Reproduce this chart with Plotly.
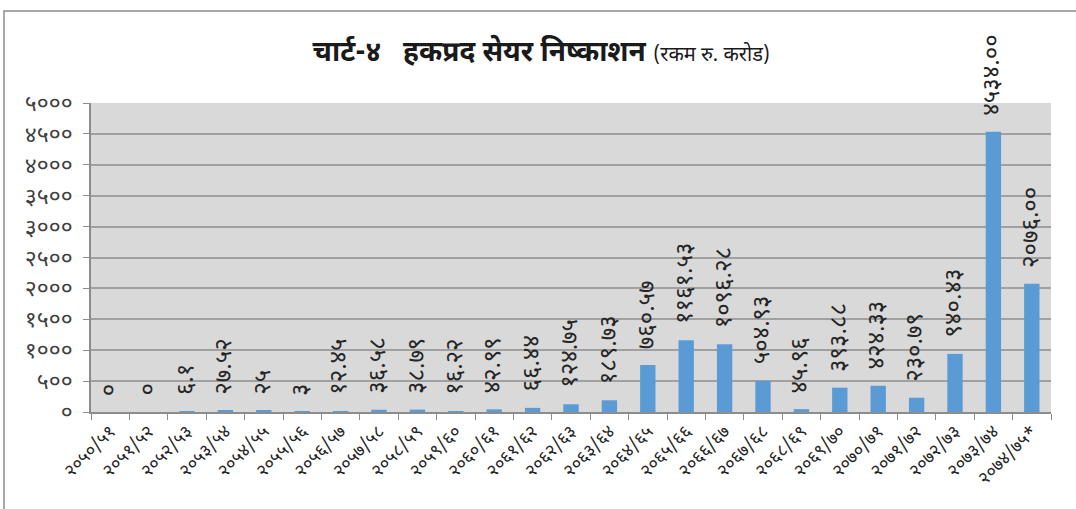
import plotly.graph_objects as go

categories = ["२०५०/५१", "२०५१/५२", "२०५२/५३", "२०५३/५४", "२०५४/५५", "२०५५/५६",
              "२०५६/५७", "२०५७/५८", "२०५८/५९", "२०५९/६०", "२०६०/६१", "२०६१/६२",
              "२०६२/६३", "२०६३/६४", "२०६४/६५", "२०६५/६६", "२०६६/६७", "२०६७/६८",
              "२०६८/६९", "२०६९/७०", "२०७०/७१", "२०७१/७२", "२०७२/७३", "२०७३/७४",
              "२०७४/७५*"]
values = [0, 0, 6.1, 27.52, 25, 3, 12.45, 36.58, 38.79, 16.22, 42.99, 66.44,
          124.75, 189.73, 760.57, 1161.53, 1096.28, 504.93, 45.96, 393.88,
          424.33, 230.79, 940.43, 4534.00, 2076.00]
value_labels = ["0", "0", "6.1", "27.52", "25", "3", "12.45", "36.58", "38.79", "16.22",
                "42.99", "66.44", "124.75", "189.73", "760.57", "1161.53", "1096.28",
                "504.93", "45.96", "393.88", "424.33", "230.79", "940.43", "4534.00",
                "2076.00"]
y_ticks = [0, 500, 1000, 1500, 2000, 2500, 3000, 3500, 4000, 4500, 5000]

DEV = str.maketrans("0123456789", "०१२३४५६७८९")
def dev(s):
    return str(s).translate(DEV)

FONT = "Noto Sans Devanagari, Noto Sans, DejaVu Sans, sans-serif"

fig = go.Figure()
fig.add_trace(go.Bar(
    x=categories, y=values,
    marker=dict(color="#5b9bd5", line=dict(width=0)),
    cliponaxis=False,
))

annotations = [
    dict(x=c, y=v, xref="x", yref="y", text=dev(t), showarrow=False,
         textangle=-90, xanchor="center", yanchor="bottom", yshift=14,
         font=dict(size=24, color="#262626", family=FONT))
    for c, v, t in zip(categories, values, value_labels)
]

fig.update_layout(
    width=1076, height=509,
    margin=dict(l=91, r=25, t=103, b=97, autoexpand=False),
    paper_bgcolor="white", plot_bgcolor="#d9d9d9",
    bargap=0.6, showlegend=False,
    font=dict(family=FONT),
    title=dict(
        text="<b>चार्ट-४   हकप्रद सेयर निष्काशन</b> <span style='font-size:20px'>(रकम रु. करोड)</span>",
        x=0.503, xanchor="center", y=0.9, yanchor="middle",
        font=dict(size=28, color="#1a1a1a", family=FONT),
    ),
    xaxis=dict(
        automargin=False,
        tickangle=-45, tickfont=dict(size=18, color="#262626", family=FONT),
        showline=True, linecolor="#8c8c8c", linewidth=1.5,
        ticks="outside", ticklen=6, tickcolor="#8c8c8c", tickson="boundaries",
        showgrid=False,
    ),
    yaxis=dict(
        automargin=False,
        range=[0, 5000], tickvals=y_ticks, ticktext=[dev(v) for v in y_ticks],
        tickfont=dict(size=23, color="#404040", family=FONT),
        showline=True, linecolor="#8c8c8c", linewidth=1.5,
        ticks="outside", ticklen=6, tickcolor="#8c8c8c", ticklabelstandoff=6,
        showgrid=True, gridcolor="#a0a0a0", gridwidth=1.5,
        zeroline=False,
    ),
    annotations=annotations,
    shapes=[dict(type="rect", xref="paper", yref="paper",
                 x0=-0.0906, x1=1.05, y0=-0.4, y1=1.2977,
                 line=dict(color="#8c8c8c", width=1.5), fillcolor="rgba(0,0,0,0)",
                 layer="below")],
)

fig.write_html("out.html", config={"displayModeBar": False},
               post_script="document.body.style.margin='0';")
